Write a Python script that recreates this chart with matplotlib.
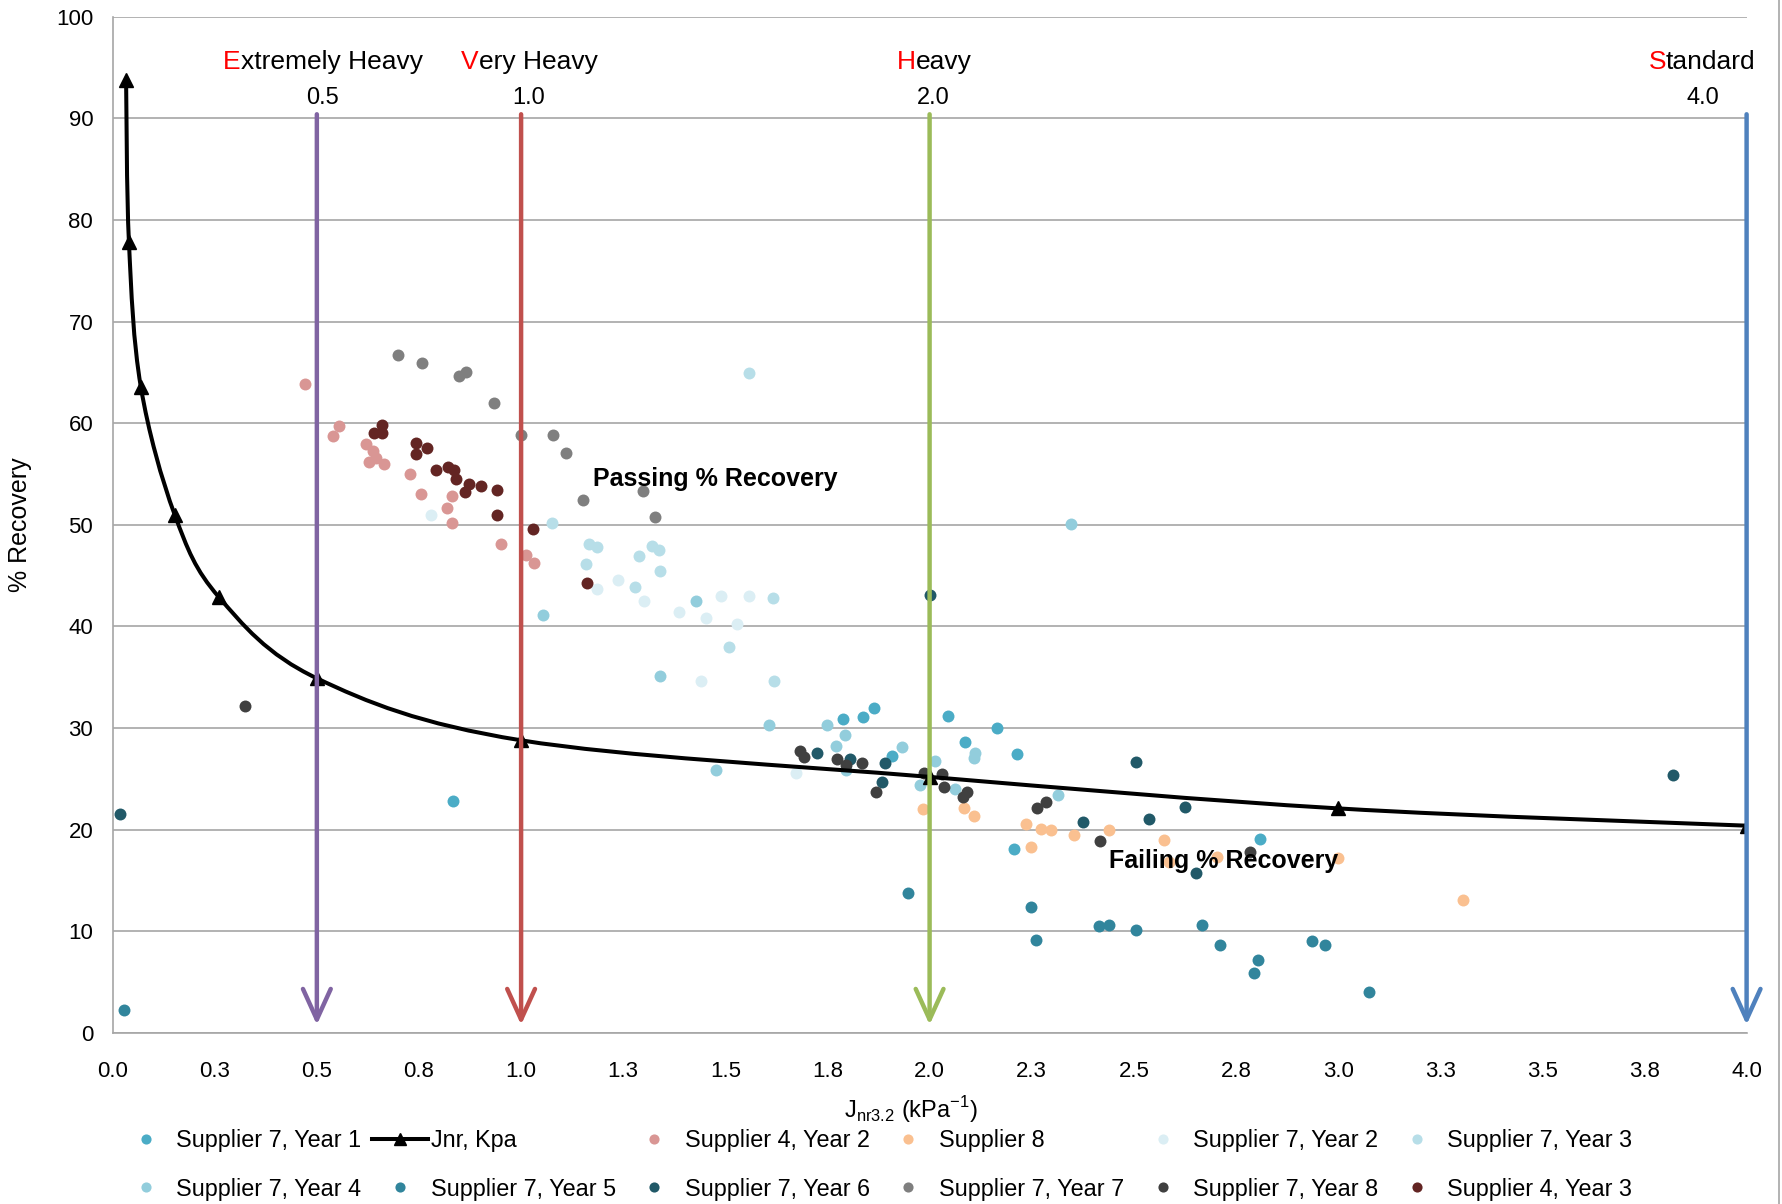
import matplotlib
matplotlib.use("Agg")
import matplotlib.pyplot as plt
from matplotlib.path import Path
from matplotlib.patches import PathPatch
from matplotlib.lines import Line2D

plt.rcParams['font.family'] = ['Liberation Sans', 'DejaVu Sans']
plt.rcParams['mathtext.fontset'] = 'custom'
plt.rcParams['mathtext.rm'] = 'Liberation Sans'

# ---- data ----
s7y1_x = [0.834, 1.787, 1.837, 1.865, 1.907, 2.045, 2.087, 2.166, 2.215, 2.206, 2.808]
s7y1_y = [22.8, 30.9, 31.1, 32.0, 27.3, 31.2, 28.6, 30.0, 27.5, 18.1, 19.1]

jnr_x = [0.033, 0.040, 0.069, 0.152, 0.260, 0.5, 1.0, 2.0, 3.0, 4.0]
jnr_y = [93.8, 77.8, 63.6, 51.0, 42.9, 34.9, 28.8, 25.2, 22.1, 20.4]

s4y2_x = [0.472, 0.540, 0.553, 0.620, 0.638, 0.628, 0.646, 0.664, 0.728, 0.755, 0.830,
          0.818, 0.830, 0.951, 1.011, 1.032]
s4y2_y = [63.9, 58.7, 59.7, 58.0, 57.3, 56.2, 56.6, 56.0, 55.0, 53.0, 52.8,
          51.7, 50.2, 48.1, 47.0, 46.2]

s8_x = [1.985, 2.083, 2.109, 2.237, 2.273, 2.298, 2.354, 2.440, 2.249, 2.574, 2.586,
        2.704, 3.0, 3.305]
s8_y = [22.0, 22.1, 21.4, 20.6, 20.1, 19.95, 19.5, 19.95, 18.3, 19.0, 16.8,
        17.3, 17.2, 13.1]

s7y2_x = [0.780, 1.185, 1.236, 1.301, 1.387, 1.453, 1.489, 1.558, 1.528, 1.440, 1.673]
s7y2_y = [51.0, 43.7, 44.6, 42.5, 41.4, 40.8, 43.0, 43.0, 40.2, 34.6, 25.6]

s7y3_x = [1.558, 1.076, 1.167, 1.187, 1.158, 1.289, 1.320, 1.338, 1.340, 1.616, 1.618,
          1.510, 1.279]
s7y3_y = [64.9, 50.2, 48.1, 47.8, 46.1, 46.9, 47.9, 47.5, 45.5, 42.8, 34.6,
          38.0, 43.9]

s7y4_x = [1.053, 1.427, 1.340, 1.608, 1.478, 1.750, 1.792, 1.771, 1.933, 2.112, 2.108,
          1.976, 2.014, 2.062, 2.345, 2.314, 1.795]
s7y4_y = [41.1, 42.5, 35.1, 30.3, 25.9, 30.3, 29.3, 28.2, 28.1, 27.6, 27.1,
          24.4, 26.8, 24.0, 50.05, 23.4, 25.9]

s7y5_x = [0.028, 1.946, 2.249, 2.260, 2.414, 2.438, 2.505, 2.667, 2.712, 2.803, 2.793,
          2.935, 2.969, 3.076]
s7y5_y = [2.3, 13.8, 12.4, 9.2, 10.5, 10.6, 10.1, 10.6, 8.7, 7.2, 5.9,
          9.05, 8.7, 4.0]

s7y6_x = [0.019, 2.0, 1.725, 1.805, 1.891, 1.884, 2.375, 2.506, 2.536, 2.624, 2.651, 3.82]
s7y6_y = [21.5, 43.1, 27.6, 27.0, 26.6, 24.7, 20.8, 26.7, 21.1, 22.2, 15.7, 25.4]

s7y7_x = [0.699, 0.758, 0.848, 0.865, 0.934, 1.0, 1.079, 1.110, 1.151, 1.298, 1.329]
s7y7_y = [66.7, 65.9, 64.6, 65.0, 62.0, 58.8, 58.8, 57.1, 52.4, 53.3, 50.8]

s7y8_x = [0.325, 1.682, 1.692, 1.774, 1.795, 1.835, 1.870, 1.986, 2.030, 2.036, 2.091,
          2.082, 2.262, 2.284, 2.416, 2.785]
s7y8_y = [32.2, 27.7, 27.2, 27.0, 26.4, 26.6, 23.7, 25.6, 25.5, 24.2, 23.7,
          23.2, 22.1, 22.7, 18.9, 17.8]

s4y3_x = [0.641, 0.660, 0.660, 0.742, 0.769, 0.742, 0.791, 0.821, 0.835, 0.841, 0.862,
          0.873, 0.901, 0.941, 0.941, 1.029, 1.161]
s4y3_y = [59.0, 59.8, 59.0, 58.1, 57.6, 57.0, 55.4, 55.7, 55.4, 54.5, 53.2,
          54.0, 53.8, 53.4, 51.0, 49.6, 44.3]

grades = ['Extremely Heavy', 'Very Heavy', 'Heavy', 'Standard']
grade_jnr = [0.5, 1.0, 2.0, 4.0]
grade_num = ['0.5', '1.0', '2.0', '4.0']
grade_name_x = [0.271, 0.853, 1.919, 3.76]
grade_num_x = [0.513, 1.019, 2.01, 3.893]
grade_colors = ['#8064a2', '#c0504d', '#9bbb59', '#4f81bd']

xticks = [i * 0.25 for i in range(17)]
xtick_labels = ['0.0', '0.3', '0.5', '0.8', '1.0', '1.3', '1.5', '1.8', '2.0',
                '2.3', '2.5', '2.8', '3.0', '3.3', '3.5', '3.8', '4.0']

fig = plt.figure(figsize=(17.83, 12.04), dpi=100)
ax = fig.add_axes([112.6 / 1783, 171 / 1204, 1634 / 1783, 1016.3 / 1204])

ms = 8.6
handles = {}


def dots(x, y, color, label):
    h, = ax.plot(x, y, ls='none', marker='o', ms=ms, mfc=color, mec='none', label=label)
    handles[label] = h


dots(s7y1_x, s7y1_y, '#4bacc6', 'Supplier 7, Year 1')

# Jnr curve, smoothed like Excel (cubic bezier through the points)
n = len(jnr_x)
verts = [(jnr_x[0], jnr_y[0])]
codes = [Path.MOVETO]
for i in range(n - 1):
    p0 = (jnr_x[max(i - 1, 0)], jnr_y[max(i - 1, 0)])
    p1 = (jnr_x[i], jnr_y[i])
    p2 = (jnr_x[i + 1], jnr_y[i + 1])
    p3 = (jnr_x[min(i + 2, n - 1)], jnr_y[min(i + 2, n - 1)])
    c1 = (p1[0] + (p2[0] - p0[0]) / 6, p1[1] + (p2[1] - p0[1]) / 6)
    c2 = (p2[0] - (p3[0] - p1[0]) / 6, p2[1] - (p3[1] - p1[1]) / 6)
    verts += [c1, c2, p2]
    codes += [Path.CURVE4] * 3
ax.add_patch(PathPatch(Path(verts, codes), fill=False, lw=2.9, ec='black', zorder=2.1))
ax.plot(jnr_x, jnr_y, ls='none', marker='^', ms=10, color='black', zorder=2.2)
handles['Jnr, Kpa'] = Line2D([], [], color='black', lw=2.9, marker='^', ms=10)

dots(s4y2_x, s4y2_y, '#d99694', 'Supplier 4, Year 2')
dots(s8_x, s8_y, '#fac090', 'Supplier 8')
dots(s7y2_x, s7y2_y, '#dbeef4', 'Supplier 7, Year 2')
dots(s7y3_x, s7y3_y, '#b7dee8', 'Supplier 7, Year 3')
dots(s7y4_x, s7y4_y, '#92cddc', 'Supplier 7, Year 4')
dots(s7y5_x, s7y5_y, '#31859c', 'Supplier 7, Year 5')
dots(s7y6_x, s7y6_y, '#215968', 'Supplier 7, Year 6')
dots(s7y7_x, s7y7_y, '#7f7f7f', 'Supplier 7, Year 7')
dots(s7y8_x, s7y8_y, '#404040', 'Supplier 7, Year 8')
dots(s4y3_x, s4y3_y, '#632523', 'Supplier 4, Year 3')

# grade arrows and labels
for name, jx, num, nx_, tx, col in zip(grades, grade_jnr, grade_num, grade_num_x,
                                       grade_name_x, grade_colors):
    ax.annotate('', xy=(jx, 0.8), xytext=(jx, 90.4),
                arrowprops=dict(arrowstyle='->, head_length=1.1, head_width=0.5',
                                lw=3.2, color=col, mutation_scale=20,
                                shrinkA=0, shrinkB=0),
                zorder=5)
    first = ax.text(tx, 94.9, name[0], color='red', fontsize=19, ha='left', va='baseline')
    ax.annotate(name[1:], xy=(1, 0), xycoords=first, ha='left', va='bottom',
                fontsize=19, color='black')
    ax.text(nx_, 91.4, num, fontsize=17, ha='center', va='baseline')

ax.text(1.177, 53.8, 'Passing % Recovery', fontsize=18, fontweight='bold',
        ha='left', va='baseline', zorder=6)
ax.text(2.44, 16.25, 'Failing % Recovery', fontsize=18, fontweight='bold',
        ha='left', va='baseline', zorder=6)

# axes styling
ax.set_xlim(0, 4.0)
ax.set_ylim(0, 100)
ax.set_xticks(xticks)
ax.set_xticklabels(xtick_labels)
ax.set_yticks(range(0, 101, 10))
ax.tick_params(axis='both', length=0, labelsize=16)
ax.tick_params(axis='x', pad=20)
ax.tick_params(axis='y', pad=14)
ax.grid(axis='y', color='#a6a6a6', lw=1.2)
ax.set_axisbelow(True)
for side in ['top', 'right']:
    ax.spines[side].set_visible(False)
for side in ['left', 'bottom']:
    ax.spines[side].set_color('#a6a6a6')
    ax.spines[side].set_linewidth(1.2)

fig.text(20 / 1783, 1 - 525 / 1204, '% Recovery', rotation=90, fontsize=18,
         ha='center', va='center')
fig.text(911 / 1783, 1 - 1110 / 1204,
         r'J$_{\mathregular{nr3.2}}$ (kPa$^{\mathregular{-1}}$)',
         fontsize=17, ha='center', va='center')

# outer chart frame on the right
fig.add_artist(Line2D([1779 / 1783, 1779 / 1783], [0, 1], color='#a6a6a6', lw=1.2,
                      transform=fig.transFigure))

order = ['Supplier 7, Year 1', 'Jnr, Kpa', 'Supplier 4, Year 2', 'Supplier 8',
         'Supplier 7, Year 2', 'Supplier 7, Year 3', 'Supplier 7, Year 4',
         'Supplier 7, Year 5', 'Supplier 7, Year 6', 'Supplier 7, Year 7',
         'Supplier 7, Year 8', 'Supplier 4, Year 3']
# legend fills column-wise; reorder so it reads row-wise like the original
col_order = []
for c in range(6):
    col_order += [order[c], order[c + 6]]
fig.legend([handles[k] for k in col_order], col_order, ncol=6,
           loc='upper left', bbox_to_anchor=(118 / 1783, 1 - 1129 / 1204),
           bbox_transform=fig.transFigure, frameon=False, fontsize=16.8,
           handlelength=2.4, handletextpad=0.1, columnspacing=0.46,
           labelspacing=1.1, borderpad=0, borderaxespad=0, markerscale=0.85)

fig.savefig('out.png', dpi=100)
